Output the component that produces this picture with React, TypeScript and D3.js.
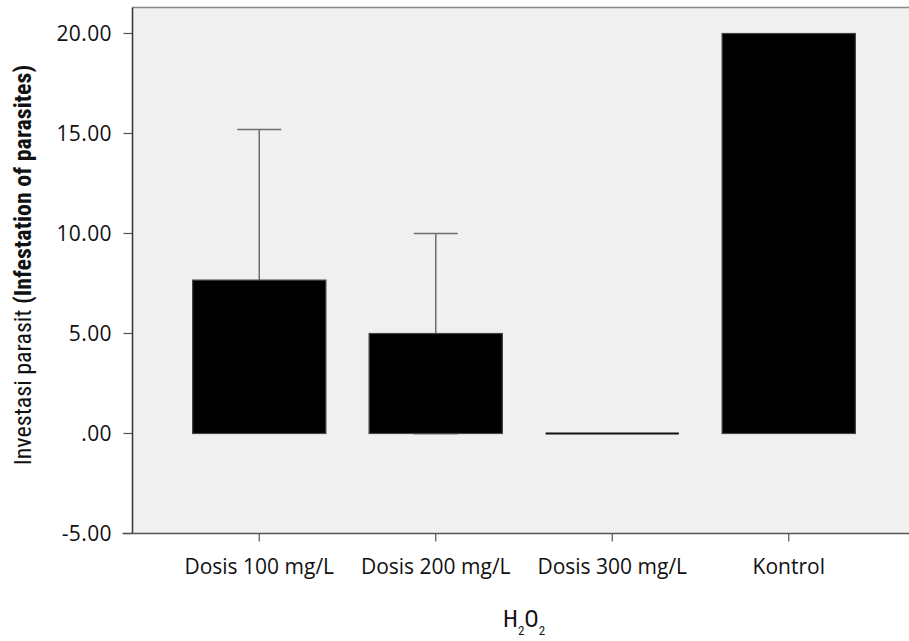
import React from "react";
import * as d3 from "d3";

const categories = ["Dosis 100 mg/L", "Dosis 200 mg/L", "Dosis 300 mg/L", "Kontrol"];
const means = [7.67, 5.0, 0, 20.0];
const errLow = [0.14, 0, 0, 20.0];
const errHigh = [15.2, 10.0, 0, 20.0];
const yTicks = [-5, 0, 5, 10, 15, 20];

const width = 909;
const height = 641;
const plot = { left: 132.5, right: 909, top: 7.5, bottom: 533.5 };
const font = "'Open Sans', 'Noto Sans', sans-serif";
const narrow = "'Liberation Sans Narrow', 'Roboto Condensed', 'Roboto', sans-serif";

const fmt = (v: number) => {
  const s = v.toFixed(2);
  return s.startsWith("0") ? s.slice(1) : s;
};

export default function App() {
  const x = d3.scaleBand().domain(categories).range([171, 877]).padding(0);
  const y = d3.scaleLinear().domain([-5, 21.3]).range([plot.bottom, plot.top]);
  const barW = x.bandwidth() * 0.755;
  const capW = 44;

  return (
    <svg width={width} height={height} style={{ display: "block", position: "absolute", left: 0, top: 0 }}>
      <rect x={plot.left} y={plot.top} width={plot.right - plot.left} height={plot.bottom - plot.top} fill="#f0f0f0" />
      <line x1={plot.left} x2={plot.right} y1={plot.top} y2={plot.top} stroke="#888" strokeWidth={1.5} />

      {/* error bars (under the bars) */}
      {categories.map((c, i) => {
        if (errHigh[i] <= errLow[i]) return null;
        const cx = (x(c) as number) + x.bandwidth() / 2;
        return (
          <g key={"e" + c} stroke="#6e6e6e" strokeWidth={1.5}>
            <line x1={cx} x2={cx} y1={y(errLow[i])} y2={y(errHigh[i])} />
            <line x1={cx - capW / 2} x2={cx + capW / 2} y1={y(errHigh[i])} y2={y(errHigh[i])} />
            <line x1={cx - capW / 2} x2={cx + capW / 2} y1={y(errLow[i])} y2={y(errLow[i])} stroke="#111" />
          </g>
        );
      })}

      {categories.map((c, i) => {
        const cx = (x(c) as number) + x.bandwidth() / 2;
        const y0 = y(0);
        const y1 = y(means[i]);
        if (Math.abs(y0 - y1) < 1) {
          return (
            <line key={c} x1={cx - barW / 2} x2={cx + barW / 2} y1={y0} y2={y0} stroke="#111" strokeWidth={2} />
          );
        }
        return (
          <rect
            key={c}
            x={cx - barW / 2}
            y={Math.min(y0, y1)}
            width={barW}
            height={Math.abs(y0 - y1)}
            fill="#000"
            stroke="#444"
            strokeWidth={1.2}
          />
        );
      })}

      {/* axes */}
      <line x1={plot.left} x2={plot.left} y1={plot.top} y2={plot.bottom} stroke="#333" strokeWidth={1.5} />
      <line x1={plot.left - 10} x2={plot.right} y1={plot.bottom} y2={plot.bottom} stroke="#555" strokeWidth={1.5} />
      {yTicks.map((t) => (
        <g key={t}>
          <line x1={plot.left - 9} x2={plot.left} y1={y(t)} y2={y(t)} stroke="#555" strokeWidth={1.2} />
          <text x={112} y={y(t)} dy="0.36em" textAnchor="end" fontFamily={font} fontSize={21} letterSpacing={0.4} fill="#111">
            {fmt(t)}
          </text>
        </g>
      ))}
      {categories.map((c) => {
        const cx = (x(c) as number) + x.bandwidth() / 2;
        return (
          <g key={"t" + c}>
            <line x1={cx} x2={cx} y1={plot.bottom} y2={plot.bottom + 8} stroke="#555" strokeWidth={1.2} />
            <text x={cx} y={574} textAnchor="middle" fontFamily={font} fontSize={21} fill="#111">
              {c}
            </text>
          </g>
        );
      })}

      <text x={503} y={627} fontFamily={narrow} fontSize={24} fill="#111">
        H<tspan fontSize={13} dy={8}>2</tspan>
        <tspan dy={-8}>O</tspan>
        <tspan fontSize={13} dy={8}>2</tspan>
      </text>

      <text
        transform="translate(31,265) rotate(-90)"
        textAnchor="middle"
        fontFamily={narrow}
        fontSize={24}
        fill="#111"
      >
        Investasi parasit <tspan fontWeight="bold">(Infestation of parasites)</tspan>
      </text>
    </svg>
  );
}
